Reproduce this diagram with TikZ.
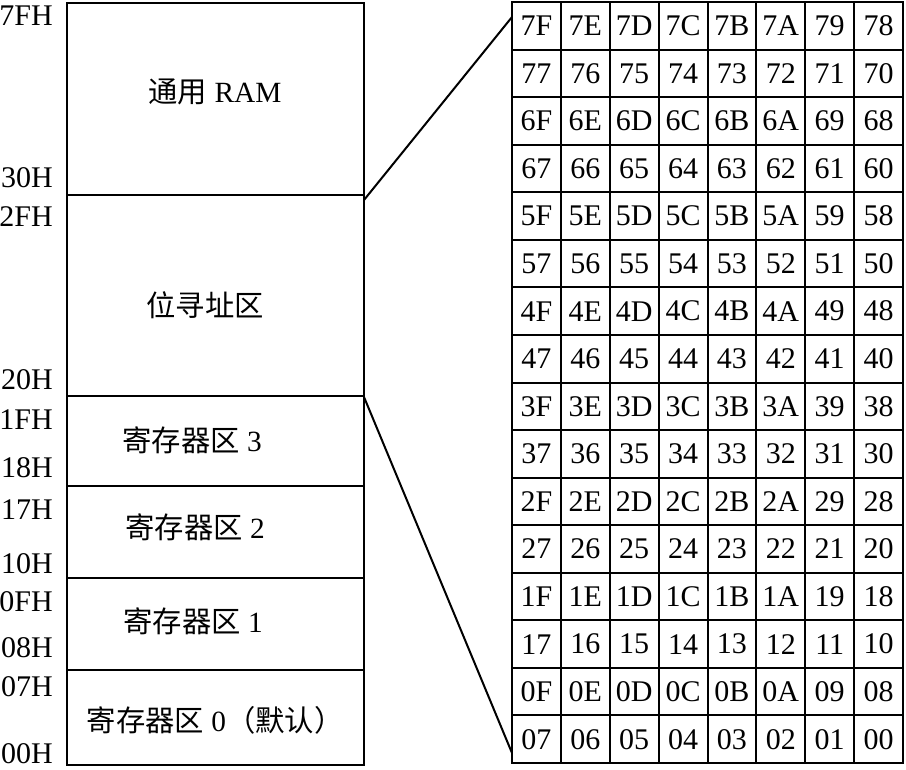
\documentclass[tikz,border=0pt]{standalone}
\usepackage{fontspec}
\setmainfont{Liberation Serif}
\newfontfamily\cjk{Noto Sans CJK SC}
\usetikzlibrary{calc}

\tikzset{
  addr/.style={anchor=east, inner sep=0pt, font=\fontsize{22.5}{22.5}\selectfont},
  area/.style={inner sep=0pt, font=\fontsize{22}{22}\selectfont},
  bitcell/.style={draw, line width=1.5pt, inner sep=0pt,
    minimum width=36.66pt, minimum height=35.67pt,
    font=\fontsize{22.5}{22.5}\selectfont},
  frame/.style={line width=1.5pt}
}

\begin{document}
\begin{tikzpicture}[x=0.75pt, y=-0.75pt]
  \useasboundingbox (0,0) rectangle (906,769);

  % Memory map
  \draw[frame] (67,3) rectangle (364,765);
  \draw[frame] (67,195) -- (364,195);
  \draw[frame] (67,396) -- (364,396);
  \draw[frame] (67,486) -- (364,486);
  \draw[frame] (67,578) -- (364,578);
  \draw[frame] (67,670) -- (364,670);

  \node[area] (ram)  at (215,92)  {{\cjk 通用} RAM};
  \node[area] (bits) at (205,305) {\cjk 位寻址区};
  \node[area] (bank3) at (192,440) {{\cjk 寄存器区} 3};
  \node[area] (bank2) at (195,527) {{\cjk 寄存器区} 2};
  \node[area] (bank1) at (193,621) {{\cjk 寄存器区} 1};
  \node[area] (bank0) at (215,720) {{\cjk 寄存器区} 0{\cjk （默认）}};

  % Addresses
  \foreach \txt/\ypos [count=\i] in {7FH/16, 30H/178, 2FH/217, 20H/380,
      1FH/420, 18H/468, 17H/510, 10H/564, 0FH/602, 08H/648, 07H/687, 00H/754}
    \node[addr] (addr-\i) at (53,\ypos) {\txt};

  % Bit-addressable cells
  \foreach \r in {0,...,15} {
    \foreach \c in {0,...,7} {
      \pgfmathtruncatemacro\v{127-8*\r-\c}
      \pgfmathparse{Hex(\v)}
      \edef\hx{\ifnum\v<16 0\fi\pgfmathresult}
      \node[bitcell] (cell-\r-\c) at ({512+48.875*(\c+0.5)},{2+47.5625*(\r+0.5)}) {\hx};
    }
  }

  \coordinate (bitsTop) at (364,200);
  \coordinate (bitsBottom) at (364,397);
  \coordinate (gridTop) at (512,17);
  \coordinate (gridBottom) at (512,753);
  \draw[frame] (bitsTop) -- (gridTop);
  \draw[frame] (bitsBottom) -- (gridBottom);
\end{tikzpicture}
\end{document}
